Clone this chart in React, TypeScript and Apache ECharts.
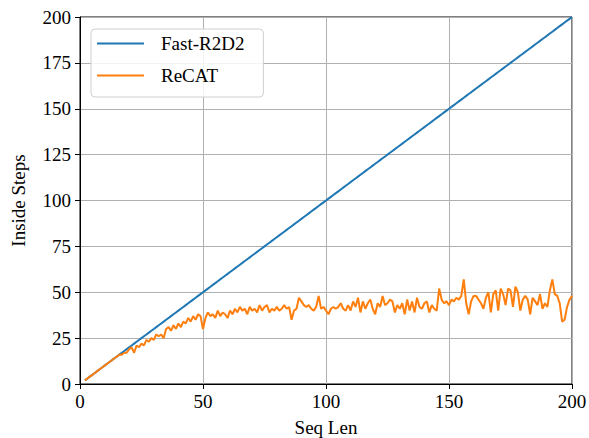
import React, { useEffect, useRef } from "react";
import * as echarts from "echarts";

const seqLen: number[] = [];
for (let i = 2; i <= 200; i++) seqLen.push(i);

const fastR2D2: number[] = seqLen.slice();

const recat: number[] = [
  2, 3, 4, 5, 6, 7, 8, 9, 10, 11, 12, 13, 14, 15, 16,
  16, 17, 17, 19, 20, 17, 21, 20, 22, 21, 24, 23, 25, 24, 27, 26, 27, 25, 30,
  31, 29, 32, 30, 33, 31, 34, 33, 36, 34, 37, 35, 38, 37, 30,
  36, 39, 37, 38, 36, 40, 37, 39, 38, 36, 40, 38, 41, 39, 42, 40, 41, 38, 42, 40,
  41, 39, 43, 40, 42, 43, 39, 41, 40, 42, 40, 41, 43, 41, 42, 35, 40, 41, 47, 45,
  43, 42, 43, 41, 40, 42, 48, 41, 42, 40,
  38, 41, 42, 41, 42, 44, 41, 40, 43, 40, 45, 42, 47, 39, 45, 41, 44, 46, 41, 38,
  44, 42, 48, 43, 44, 46, 45, 39, 43, 41, 44, 38, 46, 40, 45, 39, 47, 42, 41, 44,
  45, 39, 43, 41, 40, 52, 46, 44, 45, 43, 46, 45, 47, 46, 48, 57, 44, 38, 45, 48,
  48, 46, 44, 41, 47, 50, 39, 49, 51, 40, 52, 49, 43, 52, 51, 42, 53, 50, 40, 46,
  48, 46, 38, 47, 45, 43, 49, 41, 44, 42, 51, 57, 49, 48, 44, 34, 35, 42, 46, 48,
];

const xTicks = [0, 50, 100, 150, 200];
const yTicks = [0, 25, 50, 75, 100, 125, 150, 175, 200];

const FONT = "Liberation Serif";

export default function App() {
  const ref = useRef<HTMLDivElement>(null);
  useEffect(() => {
    if (!ref.current) return;
    const chart = echarts.init(ref.current, undefined, { renderer: "svg" });
    chart.setOption({
      animation: false,
      backgroundColor: "#ffffff",
      textStyle: { fontFamily: FONT, fontSize: 19 },
      grid: {
        left: 80,
        top: 17,
        right: 17,
        bottom: 54,
        outerBoundsMode: "none",
        containLabel: false,
        show: true,
        borderColor: "#000",
        borderWidth: 1,
        backgroundColor: "transparent",
      },
      legend: {
        orient: "vertical",
        left: 91,
        top: 29,
        icon: "rect",
        itemWidth: 47,
        itemHeight: 2,
        itemGap: 13,
        padding: [5, 19, 12, 6],
        backgroundColor: "rgba(255,255,255,0.85)",
        borderColor: "#d0d0d0",
        borderWidth: 1,
        borderRadius: 4,
        textStyle: { fontFamily: FONT, fontSize: 19, color: "#000", padding: [0, 0, 0, 12] },
        data: ["Fast-R2D2", "ReCAT"],
      },
      xAxis: {
        type: "value",
        min: 0,
        max: 200,
        interval: 50,
        name: "Seq Len",
        nameLocation: "middle",
        nameGap: 34,
        nameTextStyle: { fontFamily: FONT, fontSize: 19, color: "#000" },
        axisLine: { show: true, lineStyle: { color: "#000", width: 1 } },
        axisTick: { show: true, inside: false, length: 5, lineStyle: { color: "#000" } },
        axisLabel: {
          fontFamily: FONT,
          fontSize: 19,
          color: "#000",
          margin: 8,
          formatter: (v: number) => (xTicks.includes(v) ? String(v) : ""),
        },
        splitLine: { show: true, lineStyle: { color: "#b0b0b0", width: 1 } },
      },
      yAxis: {
        type: "value",
        min: 0,
        max: 200,
        interval: 25,
        name: "Inside Steps",
        nameLocation: "middle",
        nameGap: 52,
        nameTextStyle: { fontFamily: FONT, fontSize: 19, color: "#000" },
        axisLine: { show: true, lineStyle: { color: "#000", width: 1 } },
        axisTick: { show: true, inside: false, length: 5, lineStyle: { color: "#000" } },
        axisLabel: {
          fontFamily: FONT,
          fontSize: 19,
          color: "#000",
          margin: 9,
          formatter: (v: number) => (yTicks.includes(v) ? String(v) : ""),
        },
        splitLine: { show: true, lineStyle: { color: "#b0b0b0", width: 1 } },
      },
      series: [
        {
          name: "Fast-R2D2",
          type: "line",
          data: seqLen.map((x, i) => [x, fastR2D2[i]]),
          symbol: "none",
          showSymbol: false,
          lineStyle: { color: "#1f77b4", width: 2 },
          itemStyle: { color: "#1f77b4" },
          z: 3,
        },
        {
          name: "ReCAT",
          type: "line",
          data: seqLen.map((x, i) => [x, recat[i]]),
          symbol: "none",
          showSymbol: false,
          lineStyle: { color: "#ff7f0e", width: 2 },
          itemStyle: { color: "#ff7f0e" },
          z: 4,
        },
      ],
    });
    return () => chart.dispose();
  }, []);
  return <div ref={ref} style={{ width: 589, height: 438, position: "absolute", left: 0, top: 0 }} />;
}
